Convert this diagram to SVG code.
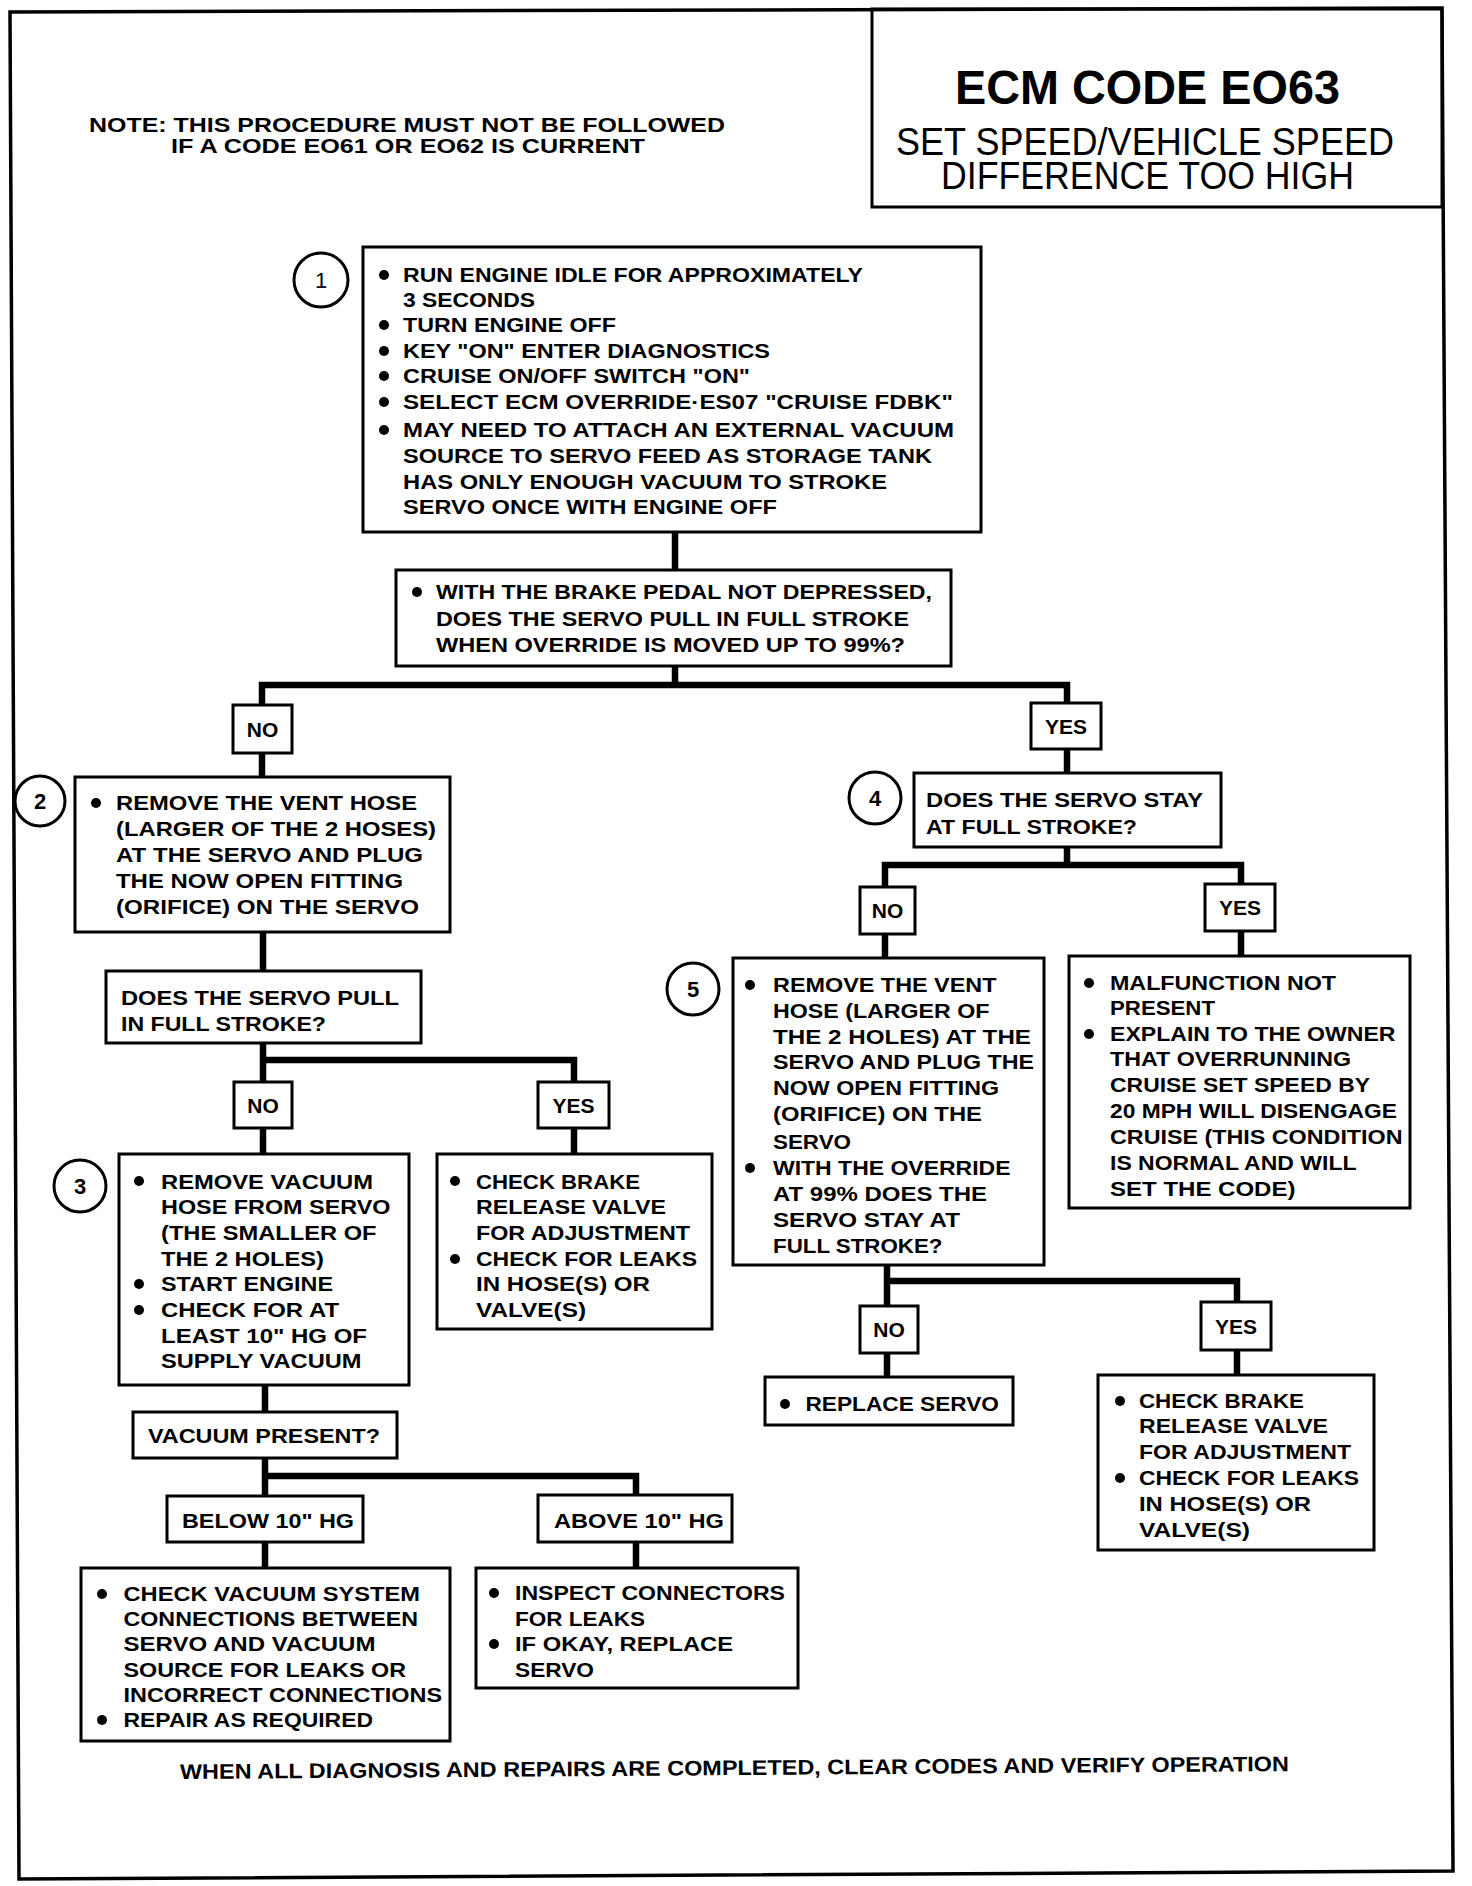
<svg xmlns="http://www.w3.org/2000/svg" width="1472" height="1886" viewBox="0 0 1472 1886">
<style>
text{font-family:"Liberation Sans",Arial,Helvetica,sans-serif;font-weight:bold;font-size:21px;fill:#000}
.lbl{text-anchor:middle}
.reg{font-weight:normal}
.box{fill:#fff;stroke:#000;stroke-width:3}
.frame{fill:none;stroke:#000;stroke-width:3.5}
.conn{fill:none;stroke:#000;stroke-width:6.5;stroke-linejoin:miter}
.num{fill:#fff;stroke:#000;stroke-width:3}
.b{fill:#000}
</style>
<rect x="0" y="0" width="1472" height="1886" fill="#fff"/>
<polygon class="frame" points="10,12 1442,8 1453,1871 19,1879"/>

<g id="title">
<rect class="box" x="872" y="9" width="570" height="198" style="fill:none"/>
<text x="955" y="104" textLength="385" lengthAdjust="spacingAndGlyphs" style="font-size:49px">ECM CODE EO63</text>
<text class="reg" x="896" y="155" textLength="498" lengthAdjust="spacingAndGlyphs" style="font-size:39px">SET SPEED/VEHICLE SPEED</text>
<text class="reg" x="941" y="189" textLength="413" lengthAdjust="spacingAndGlyphs" style="font-size:39px">DIFFERENCE TOO HIGH</text>
</g>

<g id="note">
<text x="89" y="132" textLength="636" lengthAdjust="spacingAndGlyphs" style="font-size:20px">NOTE: THIS PROCEDURE MUST NOT BE FOLLOWED</text>
<text x="171" y="153" textLength="474" lengthAdjust="spacingAndGlyphs" style="font-size:20px">IF A CODE EO61 OR EO62 IS CURRENT</text>
</g>

<g id="connectors">
<path class="conn" d="M675,532 V570"/>
<path class="conn" d="M675,666 V685 M262,705 V685 H1067 V703"/>
<path class="conn" d="M262,753 V777"/>
<path class="conn" d="M1067,749 V773"/>
<path class="conn" d="M263,932 V971"/>
<path class="conn" d="M263,1043 V1082 M263,1060 H574 V1082"/>
<path class="conn" d="M263,1128 V1154"/>
<path class="conn" d="M574,1128 V1154"/>
<path class="conn" d="M265,1385 V1412"/>
<path class="conn" d="M265,1458 V1496 M265,1476 H636 V1495"/>
<path class="conn" d="M265,1542 V1568"/>
<path class="conn" d="M636,1542 V1568"/>
<path class="conn" d="M1067,847 V865 M885,887 V865 H1241 V884"/>
<path class="conn" d="M885,934 V958"/>
<path class="conn" d="M1241,931 V956"/>
<path class="conn" d="M887,1265 V1306 M887,1281 H1237 V1302"/>
<path class="conn" d="M887,1353 V1377"/>
<path class="conn" d="M1237,1350 V1375"/>
</g>

<g id="step1">
<circle class="num" cx="321" cy="280" r="27"/>
<text class="lbl reg" x="321" y="288" style="font-size:22px">1</text>
</g>
<g id="box1">
<rect class="box" x="363" y="247" width="618" height="285"/>
<circle class="b" cx="384" cy="275" r="5"/>
<circle class="b" cx="384" cy="325" r="5"/>
<circle class="b" cx="384" cy="351" r="5"/>
<circle class="b" cx="384" cy="376" r="5"/>
<circle class="b" cx="384" cy="402" r="5"/>
<circle class="b" cx="384" cy="430" r="5"/>
<text x="403" y="282" textLength="460" lengthAdjust="spacingAndGlyphs">RUN ENGINE IDLE FOR APPROXIMATELY</text>
<text x="403" y="307" textLength="132" lengthAdjust="spacingAndGlyphs">3 SECONDS</text>
<text x="403" y="332" textLength="213" lengthAdjust="spacingAndGlyphs">TURN ENGINE OFF</text>
<text x="403" y="358" textLength="367" lengthAdjust="spacingAndGlyphs">KEY "ON" ENTER DIAGNOSTICS</text>
<text x="403" y="383" textLength="347" lengthAdjust="spacingAndGlyphs">CRUISE ON/OFF SWITCH "ON"</text>
<text x="403" y="409" textLength="550" lengthAdjust="spacingAndGlyphs">SELECT ECM OVERRIDE·ES07 "CRUISE FDBK"</text>
<text x="403" y="437" textLength="551" lengthAdjust="spacingAndGlyphs">MAY NEED TO ATTACH AN EXTERNAL VACUUM</text>
<text x="403" y="463" textLength="529" lengthAdjust="spacingAndGlyphs">SOURCE TO SERVO FEED AS STORAGE TANK</text>
<text x="403" y="489" textLength="484" lengthAdjust="spacingAndGlyphs">HAS ONLY ENOUGH VACUUM TO STROKE</text>
<text x="403" y="514" textLength="374" lengthAdjust="spacingAndGlyphs">SERVO ONCE WITH ENGINE OFF</text>
</g>

<g id="q1">
<rect class="box" x="396" y="570" width="555" height="96"/>
<circle class="b" cx="417" cy="592" r="5"/>
<text x="436" y="599" textLength="496" lengthAdjust="spacingAndGlyphs">WITH THE BRAKE PEDAL NOT DEPRESSED,</text>
<text x="436" y="626" textLength="473" lengthAdjust="spacingAndGlyphs">DOES THE SERVO PULL IN FULL STROKE</text>
<text x="436" y="652" textLength="469" lengthAdjust="spacingAndGlyphs">WHEN OVERRIDE IS MOVED UP TO 99%?</text>
</g>

<g id="no1">
<rect class="box" x="233" y="705" width="59" height="48"/>
<text class="lbl" x="262.5" y="737">NO</text>
</g>
<g id="yes1">
<rect class="box" x="1031" y="703" width="70" height="46"/>
<text class="lbl" x="1066" y="734">YES</text>
</g>

<g id="step2">
<circle class="num" cx="40" cy="801" r="25"/>
<text class="lbl" x="40" y="809" style="font-size:22px">2</text>
</g>
<g id="box2">
<rect class="box" x="75" y="777" width="375" height="155"/>
<circle class="b" cx="96" cy="803" r="5"/>
<text x="116" y="810" textLength="301" lengthAdjust="spacingAndGlyphs">REMOVE THE VENT HOSE</text>
<text x="116" y="836" textLength="320" lengthAdjust="spacingAndGlyphs">(LARGER OF THE 2 HOSES)</text>
<text x="116" y="862" textLength="307" lengthAdjust="spacingAndGlyphs">AT THE SERVO AND PLUG</text>
<text x="116" y="888" textLength="287" lengthAdjust="spacingAndGlyphs">THE NOW OPEN FITTING</text>
<text x="116" y="914" textLength="303" lengthAdjust="spacingAndGlyphs">(ORIFICE) ON THE SERVO</text>
</g>

<g id="q2">
<rect class="box" x="106" y="971" width="315" height="72"/>
<text x="121" y="1005" textLength="278" lengthAdjust="spacingAndGlyphs">DOES THE SERVO PULL</text>
<text x="121" y="1031" textLength="205" lengthAdjust="spacingAndGlyphs">IN FULL STROKE?</text>
</g>

<g id="no2">
<rect class="box" x="234" y="1082" width="58" height="46"/>
<text class="lbl" x="263" y="1113">NO</text>
</g>
<g id="yes2">
<rect class="box" x="538" y="1082" width="71" height="46"/>
<text class="lbl" x="573.5" y="1113">YES</text>
</g>

<g id="step3">
<circle class="num" cx="80" cy="1186" r="26"/>
<text class="lbl" x="80" y="1194" style="font-size:22px">3</text>
</g>
<g id="box3">
<rect class="box" x="119" y="1154" width="290" height="231"/>
<circle class="b" cx="139" cy="1181" r="5"/>
<circle class="b" cx="139" cy="1284" r="5"/>
<circle class="b" cx="139" cy="1310" r="5"/>
<text x="161" y="1188.5" textLength="212" lengthAdjust="spacingAndGlyphs">REMOVE VACUUM</text>
<text x="161" y="1214" textLength="229.5" lengthAdjust="spacingAndGlyphs">HOSE FROM SERVO</text>
<text x="161" y="1240" textLength="215.5" lengthAdjust="spacingAndGlyphs">(THE SMALLER OF</text>
<text x="161" y="1266" textLength="163" lengthAdjust="spacingAndGlyphs">THE 2 HOLES)</text>
<text x="161" y="1291" textLength="172" lengthAdjust="spacingAndGlyphs">START ENGINE</text>
<text x="161" y="1317" textLength="178" lengthAdjust="spacingAndGlyphs">CHECK FOR AT</text>
<text x="161" y="1343" textLength="206" lengthAdjust="spacingAndGlyphs">LEAST 10" HG OF</text>
<text x="161" y="1368" textLength="200.5" lengthAdjust="spacingAndGlyphs">SUPPLY VACUUM</text>
</g>

<g id="brake1">
<rect class="box" x="437" y="1154" width="275" height="175"/>
<circle class="b" cx="455" cy="1181" r="5"/>
<circle class="b" cx="455" cy="1259" r="5"/>
<text x="476" y="1188.5" textLength="164" lengthAdjust="spacingAndGlyphs">CHECK BRAKE</text>
<text x="476" y="1214" textLength="190" lengthAdjust="spacingAndGlyphs">RELEASE VALVE</text>
<text x="476" y="1240" textLength="214" lengthAdjust="spacingAndGlyphs">FOR ADJUSTMENT</text>
<text x="476" y="1266" textLength="221" lengthAdjust="spacingAndGlyphs">CHECK FOR LEAKS</text>
<text x="476" y="1291" textLength="174" lengthAdjust="spacingAndGlyphs">IN HOSE(S) OR</text>
<text x="476" y="1317" textLength="110" lengthAdjust="spacingAndGlyphs">VALVE(S)</text>
</g>

<g id="q3">
<rect class="box" x="133" y="1412" width="264" height="46"/>
<text x="148" y="1443" textLength="232" lengthAdjust="spacingAndGlyphs">VACUUM PRESENT?</text>
</g>
<g id="below">
<rect class="box" x="167" y="1496" width="196" height="46"/>
<text x="182" y="1528" textLength="172" lengthAdjust="spacingAndGlyphs">BELOW 10" HG</text>
</g>
<g id="above">
<rect class="box" x="538" y="1495" width="194" height="47"/>
<text x="554" y="1528" textLength="170" lengthAdjust="spacingAndGlyphs">ABOVE 10" HG</text>
</g>

<g id="vacsys">
<rect class="box" x="81" y="1568" width="369" height="173"/>
<circle class="b" cx="102" cy="1594" r="5"/>
<circle class="b" cx="102" cy="1720" r="5"/>
<text x="123.5" y="1601" textLength="296.5" lengthAdjust="spacingAndGlyphs">CHECK VACUUM SYSTEM</text>
<text x="123.5" y="1626" textLength="294.5" lengthAdjust="spacingAndGlyphs">CONNECTIONS BETWEEN</text>
<text x="123.5" y="1651" textLength="252" lengthAdjust="spacingAndGlyphs">SERVO AND VACUUM</text>
<text x="123.5" y="1677" textLength="282.5" lengthAdjust="spacingAndGlyphs">SOURCE FOR LEAKS OR</text>
<text x="123.5" y="1702" textLength="318.5" lengthAdjust="spacingAndGlyphs">INCORRECT CONNECTIONS</text>
<text x="123.5" y="1727" textLength="249.5" lengthAdjust="spacingAndGlyphs">REPAIR AS REQUIRED</text>
</g>

<g id="inspect">
<rect class="box" x="476" y="1568" width="322" height="120"/>
<circle class="b" cx="494" cy="1593" r="5"/>
<circle class="b" cx="494" cy="1644" r="5"/>
<text x="515" y="1600" textLength="270" lengthAdjust="spacingAndGlyphs">INSPECT CONNECTORS</text>
<text x="515" y="1626" textLength="130" lengthAdjust="spacingAndGlyphs">FOR LEAKS</text>
<text x="515" y="1651" textLength="218" lengthAdjust="spacingAndGlyphs">IF OKAY, REPLACE</text>
<text x="515" y="1677" textLength="79" lengthAdjust="spacingAndGlyphs">SERVO</text>
</g>

<g id="step4">
<circle class="num" cx="875" cy="798" r="26"/>
<text class="lbl" x="875" y="806" style="font-size:22px">4</text>
</g>
<g id="q4">
<rect class="box" x="914" y="773" width="307" height="74"/>
<text x="926" y="807" textLength="277" lengthAdjust="spacingAndGlyphs">DOES THE SERVO STAY</text>
<text x="926" y="834" textLength="211" lengthAdjust="spacingAndGlyphs">AT FULL STROKE?</text>
</g>

<g id="no4">
<rect class="box" x="860" y="887" width="55" height="47"/>
<text class="lbl" x="887.5" y="918">NO</text>
</g>
<g id="yes4">
<rect class="box" x="1205" y="884" width="70" height="47"/>
<text class="lbl" x="1240" y="915">YES</text>
</g>

<g id="step5">
<circle class="num" cx="693" cy="989" r="26"/>
<text class="lbl" x="693" y="997" style="font-size:22px">5</text>
</g>
<g id="box5">
<rect class="box" x="733" y="958" width="311" height="307"/>
<circle class="b" cx="750" cy="985" r="5"/>
<circle class="b" cx="750" cy="1168" r="5"/>
<text x="773" y="992" textLength="223.5" lengthAdjust="spacingAndGlyphs">REMOVE THE VENT</text>
<text x="773" y="1018" textLength="216.5" lengthAdjust="spacingAndGlyphs">HOSE (LARGER OF</text>
<text x="773" y="1044" textLength="258" lengthAdjust="spacingAndGlyphs">THE 2 HOLES) AT THE</text>
<text x="773" y="1069" textLength="261" lengthAdjust="spacingAndGlyphs">SERVO AND PLUG THE</text>
<text x="773" y="1095" textLength="226" lengthAdjust="spacingAndGlyphs">NOW OPEN FITTING</text>
<text x="773" y="1121" textLength="209" lengthAdjust="spacingAndGlyphs">(ORIFICE) ON THE</text>
<text x="773" y="1149" textLength="78" lengthAdjust="spacingAndGlyphs">SERVO</text>
<text x="773" y="1175" textLength="237.5" lengthAdjust="spacingAndGlyphs">WITH THE OVERRIDE</text>
<text x="773" y="1201" textLength="214" lengthAdjust="spacingAndGlyphs">AT 99% DOES THE</text>
<text x="773" y="1227" textLength="187" lengthAdjust="spacingAndGlyphs">SERVO STAY AT</text>
<text x="773" y="1253" textLength="169.5" lengthAdjust="spacingAndGlyphs">FULL STROKE?</text>
</g>

<g id="malf">
<rect class="box" x="1069" y="956" width="341" height="252"/>
<circle class="b" cx="1089" cy="983" r="5"/>
<circle class="b" cx="1089" cy="1034" r="5"/>
<text x="1110" y="990" textLength="226" lengthAdjust="spacingAndGlyphs">MALFUNCTION NOT</text>
<text x="1110" y="1015" textLength="105" lengthAdjust="spacingAndGlyphs">PRESENT</text>
<text x="1110" y="1041" textLength="285.5" lengthAdjust="spacingAndGlyphs">EXPLAIN TO THE OWNER</text>
<text x="1110" y="1066" textLength="241" lengthAdjust="spacingAndGlyphs">THAT OVERRUNNING</text>
<text x="1110" y="1092" textLength="260" lengthAdjust="spacingAndGlyphs">CRUISE SET SPEED BY</text>
<text x="1110" y="1118" textLength="287" lengthAdjust="spacingAndGlyphs">20 MPH WILL DISENGAGE</text>
<text x="1110" y="1144" textLength="292.5" lengthAdjust="spacingAndGlyphs">CRUISE (THIS CONDITION</text>
<text x="1110" y="1170" textLength="246.5" lengthAdjust="spacingAndGlyphs">IS NORMAL AND WILL</text>
<text x="1110" y="1196" textLength="185.5" lengthAdjust="spacingAndGlyphs">SET THE CODE)</text>
</g>

<g id="no5">
<rect class="box" x="860" y="1306" width="58" height="47"/>
<text class="lbl" x="889" y="1337">NO</text>
</g>
<g id="yes5">
<rect class="box" x="1201" y="1302" width="70" height="48"/>
<text class="lbl" x="1236" y="1333.5">YES</text>
</g>

<g id="replace">
<rect class="box" x="765" y="1377" width="248" height="48"/>
<circle class="b" cx="785" cy="1404" r="5"/>
<text x="805.5" y="1411" textLength="193.5" lengthAdjust="spacingAndGlyphs">REPLACE SERVO</text>
</g>

<g id="brake2">
<rect class="box" x="1098" y="1375" width="276" height="175"/>
<circle class="b" cx="1120" cy="1401" r="5"/>
<circle class="b" cx="1120" cy="1478" r="5"/>
<text x="1139" y="1408" textLength="165" lengthAdjust="spacingAndGlyphs">CHECK BRAKE</text>
<text x="1139" y="1433" textLength="189" lengthAdjust="spacingAndGlyphs">RELEASE VALVE</text>
<text x="1139" y="1459" textLength="212" lengthAdjust="spacingAndGlyphs">FOR ADJUSTMENT</text>
<text x="1139" y="1485" textLength="220" lengthAdjust="spacingAndGlyphs">CHECK FOR LEAKS</text>
<text x="1139" y="1511" textLength="172" lengthAdjust="spacingAndGlyphs">IN HOSE(S) OR</text>
<text x="1139" y="1537" textLength="111" lengthAdjust="spacingAndGlyphs">VALVE(S)</text>
</g>

<g id="footer">
<text x="180" y="1779" transform="rotate(-0.41 180 1779)" textLength="1109" lengthAdjust="spacingAndGlyphs">WHEN ALL DIAGNOSIS AND REPAIRS ARE COMPLETED, CLEAR CODES AND VERIFY OPERATION</text>
</g>
</svg>
